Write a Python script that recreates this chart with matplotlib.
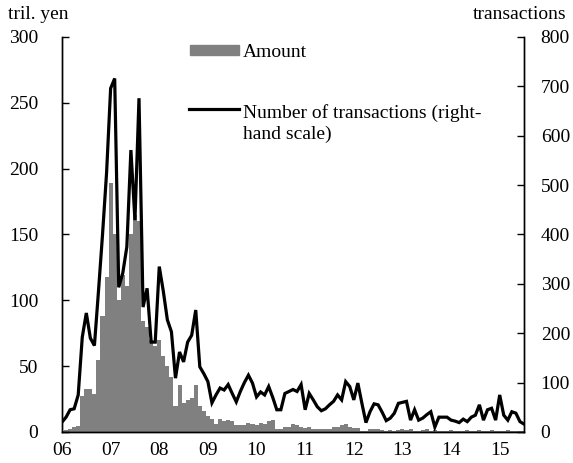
import numpy as np
import matplotlib
matplotlib.use("Agg")
import matplotlib.pyplot as plt
from matplotlib.patches import Rectangle
from matplotlib.lines import Line2D

plt.rcParams["font.family"] = "Liberation Serif"
plt.rcParams["font.size"] = 14

# monthly figures, Jan 2006 .. Jul 2015
amount = [1, 1.5, 2, 3.5, 4.5, 27, 33, 33, 29, 55,
          88, 118, 189, 150, 100, 119, 111, 150, 165, 160,
          84, 80, 70, 65, 70, 58, 50, 42, 20, 36,
          22, 24, 26, 36, 20, 16, 12, 10, 6, 10,
          8, 9, 8, 5, 5, 5.5, 7, 6, 5, 7,
          6, 8, 9, 2.5, 2.5, 4, 4, 6, 5, 4,
          3, 3.5, 2.5, 2, 2, 2, 2, 3.5, 3.5, 5,
          6, 4, 3, 3, 1, 1, 2, 2, 2, 1.5,
          1, 1.5, 1, 1.5, 2, 1.5, 2, 1, 1, 1.5,
          2, 1, 1.5, 1, 1, 1, 1.5, 1, 1, 1,
          1.5, 1, 1, 1.5, 1, 1, 1.5, 1, 1, 1,
          1.5, 1, 1, 1, 1]

transactions = [20, 30, 45, 47, 75, 192, 241, 190, 175, 285,
                400, 525, 696, 716, 293, 322, 375, 571, 429, 676,
                253, 291, 182, 182, 335, 285, 227, 203, 109, 162,
                142, 182, 196, 247, 132, 118, 102, 59, 75, 89,
                85, 96, 78, 61, 82, 100, 115, 99, 71, 81,
                75, 92, 70, 45, 45, 78, 82, 86, 82, 96,
                45, 78, 65, 51, 43, 47, 55, 62, 75, 65,
                102, 92, 65, 99, 58, 19, 41, 57, 55, 40,
                23, 28, 38, 58, 60, 62, 24, 45, 24, 28,
                35, 41, 10, 30, 30, 30, 24, 22, 19, 26,
                21, 30, 34, 55, 24, 45, 48, 24, 75, 34,
                24, 41, 38, 21, 16]

year_labels = ["06", "07", "08", "09", "10", "11", "12", "13", "14", "15"]

months = np.arange(len(amount))

fig = plt.figure(figsize=(5.73, 4.63), dpi=100)
ax = fig.add_axes([0.1082, 0.067, 0.8063, 0.8531])
ax2 = ax.twinx()

ax.bar(months, amount, width=1.0, color="#808080", linewidth=0)
ax2.plot(months, transactions, color="black", lw=2.3, solid_joinstyle="miter")

ax.set_xlim(0, len(amount) - 1)
ax.set_ylim(0, 300)
ax2.set_ylim(0, 800)
ax.set_yticks(np.arange(0, 301, 50))
ax2.set_yticks(np.arange(0, 801, 100))
ax.set_xticks(months[::12])
ax.set_xticklabels(year_labels)

for a in (ax, ax2):
    a.spines["top"].set_visible(False)
    for s in a.spines.values():
        s.set_linewidth(1.0)
ax.tick_params(axis="y", direction="in", length=5, width=1, pad=17)
ax2.tick_params(axis="y", direction="in", length=5, width=1, pad=12)
ax.tick_params(axis="x", length=0, pad=7)

# legend drawn by hand so the line sits on the first text row
ax2.add_patch(Rectangle((0.277, 0.954), 0.106, 0.025, transform=ax2.transAxes,
                        color="#808080", clip_on=False))
ax2.text(0.392, 0.950, "Amount", transform=ax2.transAxes, va="baseline")
ax2.add_line(Line2D([0.275, 0.383], [0.818, 0.818], transform=ax2.transAxes,
                    color="black", lw=2.3))
ax2.text(0.392, 0.742, "Number of transactions (right-\nhand scale)",
         transform=ax2.transAxes, va="baseline", linespacing=1.3)

fig.text(8 / 573, 1 - 19 / 463, "tril. yen", va="baseline")
fig.text(566 / 573, 1 - 19 / 463, "transactions", va="baseline", ha="right")

fig.savefig("out.png", dpi=100)
